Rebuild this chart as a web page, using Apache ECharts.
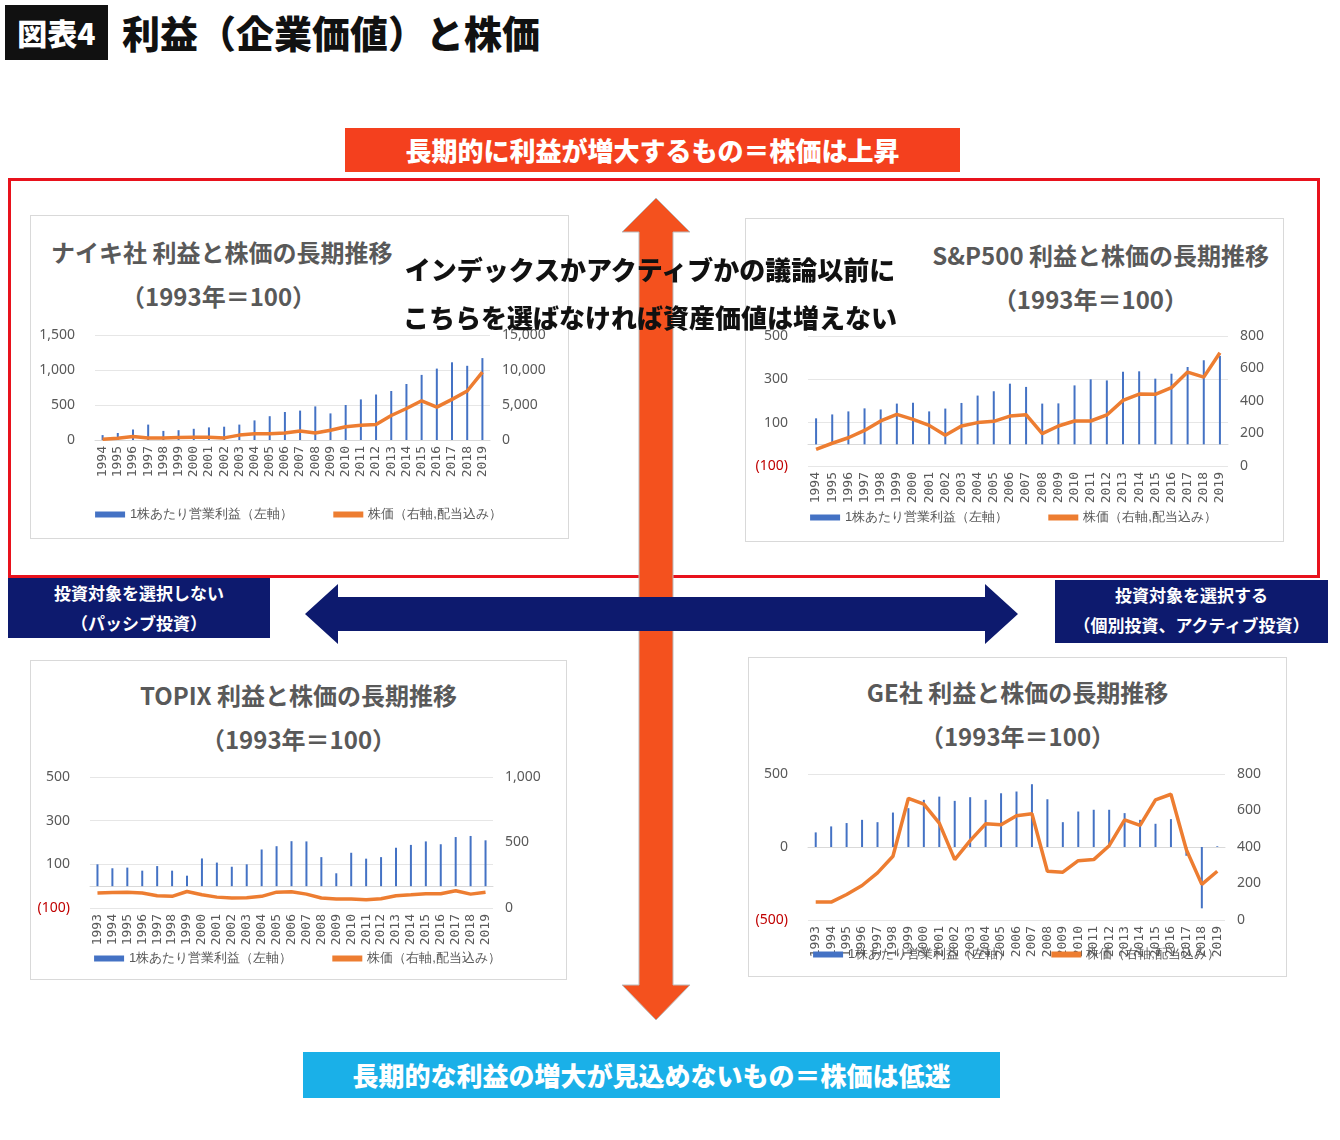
<!DOCTYPE html>
<html lang="ja">
<head>
<meta charset="UTF-8">
<title>利益（企業価値）と株価</title>
<script src="https://cdn.jsdelivr.net/npm/echarts@6/dist/echarts.min.js"></script>
<style>
  body { margin:0; width:1340px; height:1140px; background:#fff; position:relative; overflow:hidden;
         font-family:"Noto Sans CJK JP","Noto Sans",sans-serif; }
  .abs { position:absolute; }
  .badge { left:5px; top:5px; width:103px; height:55px; background:#111; color:#fff; font-weight:900;
           font-size:30px; line-height:55px; text-align:center; }
  .title { left:122px; top:4px; font-size:38px; font-weight:900; color:#111; }
  .banner { color:#fff; font-weight:900; text-align:center; font-size:26px; }
  .panel { background:#fff; border:1px solid #d9d9d9; }
  .ptitle { width:100%; text-align:center; color:#595959; font-weight:700; font-size:24px; line-height:44px; }
  .navy { background:#0d1a6e; color:#fff; font-weight:700; text-align:center; font-size:17px; line-height:30px; }
  .overlay { left:380px; width:540px; text-align:center; font-weight:900; font-size:26px; color:#111; }
</style>
</head>
<body>
<div class="abs badge">図表4</div>
<div class="abs title">利益（企業価値）と株価</div>

<div class="abs banner" style="left:345px;top:128px;width:615px;height:44px;line-height:44px;background:#f4401e;">長期的に利益が増大するもの＝株価は上昇</div>
<div class="abs" style="left:8px;top:178px;width:1306px;height:394px;border:3px solid #e8121c;"></div>

<div class="abs panel" style="left:30px;top:215px;width:537px;height:322px;">
  <div class="ptitle" style="margin-top:14px;text-align:left;padding-left:20px;">ナイキ社 利益と株価の長期推移</div>
  <div class="ptitle" style="text-align:left;padding-left:90px;">（1993年＝100）</div>
</div>
<div class="abs panel" style="left:745px;top:218px;width:537px;height:322px;">
  <div class="ptitle" style="margin-top:14px;text-align:right;width:auto;padding-right:14px;">S&amp;P500 利益と株価の長期推移</div>
  <div class="ptitle" style="text-align:right;width:auto;padding-right:95px;">（1993年＝100）</div>
</div>
<div class="abs panel" style="left:30px;top:660px;width:535px;height:318px;">
  <div class="ptitle" style="margin-top:12px;">TOPIX 利益と株価の長期推移</div>
  <div class="ptitle">（1993年＝100）</div>
</div>
<div class="abs panel" style="left:748px;top:657px;width:537px;height:318px;">
  <div class="ptitle" style="margin-top:12px;">GE社 利益と株価の長期推移</div>
  <div class="ptitle">（1993年＝100）</div>
</div>

<div id="c1" class="abs" style="left:30px;top:215px;width:537px;height:322px;"></div>
<div id="c2" class="abs" style="left:745px;top:218px;width:537px;height:322px;"></div>
<div id="c3" class="abs" style="left:30px;top:660px;width:535px;height:318px;"></div>
<div id="c4" class="abs" style="left:748px;top:657px;width:537px;height:318px;"></div>

<!-- arrows -->
<svg class="abs" style="left:0;top:0;" width="1340" height="1140">
  <polygon points="656,198 690,232 673,232 673,985 690,985 656,1020 622,985 639,985 639,232 622,232"
           fill="#f4511e" stroke="#bbb" stroke-width="1"/>
  <polygon points="305,614 338,584 338,597 985,597 985,584 1018,614 985,644 985,631 338,631 338,644"
           fill="#0d1a6e"/>
</svg>

<div class="abs navy" style="left:8px;top:578px;width:262px;height:60px;">投資対象を選択しない<br>（パッシブ投資）</div>
<div class="abs navy" style="left:1055px;top:580px;width:273px;height:63px;">投資対象を選択する<br>（個別投資、アクティブ投資）</div>

<div class="abs overlay" style="top:250px;">インデックスかアクティブかの議論以前に</div>
<div class="abs overlay" style="top:298px;">こちらを選ばなければ資産価値は増えない</div>

<div class="abs banner" style="left:303px;top:1052px;width:697px;height:46px;line-height:46px;background:#1ab0e8;">長期的な利益の増大が見込めないもの＝株価は低迷</div>

<script>
// data
var years94 = ['1994','1995','1996','1997','1998','1999','2000','2001','2002','2003','2004','2005','2006','2007','2008','2009','2010','2011','2012','2013','2014','2015','2016','2017','2018','2019'];
var years93 = ['1993'].concat(years94);

var nikeProfit = [70,100,150,220,130,140,160,180,190,220,280,340,400,420,480,380,500,580,650,700,800,930,1020,1110,1060,1170];
var nikePrice  = [100,250,500,300,300,350,400,400,300,700,900,900,1000,1300,1000,1400,1900,2100,2200,3500,4500,5600,4700,5800,7000,9700];

var spProfit = [120,138,152,166,161,188,192,152,165,191,225,245,280,265,188,189,272,300,295,335,337,303,326,357,388,408];
var spPrice  = [102,140,174,219,277,318,287,250,189,246,267,275,307,316,199,246,277,277,314,404,443,441,482,578,547,697];

var topixProfit = [100,82,85,71,92,71,48,127,108,89,100,168,183,206,205,133,59,153,126,133,176,189,205,192,225,230,210];
var topixPrice  = [114,119,121,114,94,89,126,101,83,76,78,89,121,124,106,76,68,68,63,71,94,101,109,109,132,106,121];

var geProfit = [100,141,164,186,170,236,266,323,345,316,341,323,368,380,430,327,170,243,255,255,232,186,159,191,-60,-420,5];
var gePrice  = [98,98,140,189,258,349,667,635,531,331,435,527,522,571,582,267,262,325,331,407,549,518,658,689,385,195,267];

function neg(v) { return v < 0 ? '{r|(' + Math.abs(v).toLocaleString('en-US') + ')}' : v.toLocaleString('en-US'); }

function build(el, cats, profit, price, grid, left, right, legendTop) {
  var chart = echarts.init(document.getElementById(el));
  var lab = { color:'#595959', fontSize:14, fontFamily:'Noto Sans', rich:{ r:{ color:'#c00000', fontSize:14, fontFamily:'Noto Sans' } } };
  chart.setOption({
    animation:false,
    grid:grid,
    legend:{ top:legendTop, left:'center', itemGap:40, itemWidth:30, itemHeight:6,
      textStyle:{ color:'#595959', fontSize:13 },
      data:[{ name:'1株あたり営業利益（左軸）', icon:'rect' }, { name:'株価（右軸,配当込み）', icon:'rect' }] },
    xAxis:{ type:'category', data:cats, axisTick:{show:false},
      axisLine:{ show:true, onZero:true, onZeroAxisIndex:0, lineStyle:{ color:'#d9d9d9' } },
      axisLabel:{ rotate:90, interval:0, color:'#595959', fontSize:13, fontFamily:'DejaVu Sans Mono', margin:6 } },
    yAxis:[
      { type:'value', min:left[0], max:left[1], interval:left[2], axisLabel:Object.assign({ formatter:neg, margin:20 }, lab),
        splitLine:{ lineStyle:{ color:'#e6e6e6' } } },
      { type:'value', min:right[0], max:right[1], interval:right[2], splitLine:{show:false},
        axisLabel:Object.assign({ formatter:neg, margin:12 }, lab) }
    ],
    series:[
      { name:'1株あたり営業利益（左軸）', type:'bar', data:profit, barWidth:2, itemStyle:{ color:'#4472c4' } },
      { name:'株価（右軸,配当込み）', type:'line', yAxisIndex:1, data:price, symbol:'none',
        lineStyle:{ color:'#ed7d31', width:3.5 }, itemStyle:{ color:'#ed7d31' } }
    ]
  });
}

build('c1', years94, nikeProfit, nikePrice, { left:65, right:77, top:120, bottom:97 }, [0,1500,500], [0,15000,5000], 288);
build('c2', years94, spProfit, spPrice, { left:63, right:54, top:118, bottom:74 }, [-100,500,200], [0,800,200], 288);
build('c3', years93, topixProfit, topixPrice, { left:60, right:72, top:117, bottom:70 }, [-100,500,200], [0,1000,500], 287);
build('c4', years93, geProfit, gePrice, { left:60, right:60, top:117, bottom:55 }, [-500,500,500], [0,800,200], 286);
</script>
</body>
</html>
